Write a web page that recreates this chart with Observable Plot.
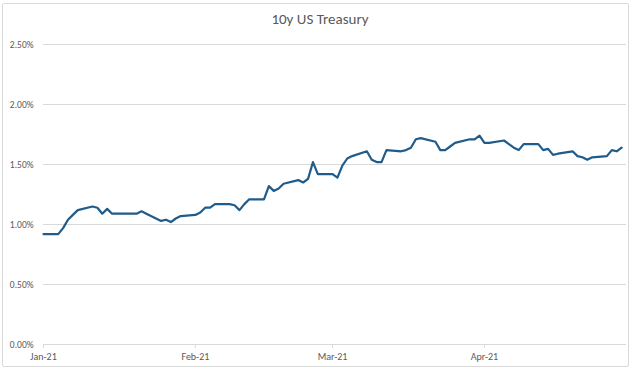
<!DOCTYPE html>
<html>
<head>
<meta charset="utf-8">
<script src="https://cdn.jsdelivr.net/npm/d3@7"></script>
<script src="https://cdn.jsdelivr.net/npm/@observablehq/plot@0.6"></script>
<style>
  html, body { margin: 0; padding: 0; background: #fff; }
  #wrap { position: relative; width: 640px; height: 377px; font-family: Carlito, Lato, sans-serif; }
  #frame { position: absolute; left: 2px; top: 3px; width: 627px; height: 364px; border: 1px solid #d9d9d9; border-radius: 2px; box-sizing: border-box; }
  #title { position: absolute; left: 0; top: 10px; width: 640px; text-align: center; font-size: 15px; color: #595959; }
  #chart { position: absolute; left: 0; top: 0; }
</style>
</head>
<body>
<div id="wrap">
  <div id="frame"></div>
  <div id="chart"></div>
  <div id="title">10y US Treasury</div>
</div>
<script>
const dates = [
  "2021-01-01","2021-01-04","2021-01-05","2021-01-06","2021-01-07","2021-01-08",
  "2021-01-11","2021-01-12","2021-01-13","2021-01-14","2021-01-15",
  "2021-01-18","2021-01-19","2021-01-20","2021-01-21","2021-01-22",
  "2021-01-25","2021-01-26","2021-01-27","2021-01-28","2021-01-29",
  "2021-02-01","2021-02-02","2021-02-03","2021-02-04","2021-02-05",
  "2021-02-08","2021-02-09","2021-02-10","2021-02-11","2021-02-12",
  "2021-02-15","2021-02-16","2021-02-17","2021-02-18","2021-02-19",
  "2021-02-22","2021-02-23","2021-02-24","2021-02-25","2021-02-26",
  "2021-03-01","2021-03-02","2021-03-03","2021-03-04","2021-03-05",
  "2021-03-08","2021-03-09","2021-03-10","2021-03-11","2021-03-12",
  "2021-03-15","2021-03-16","2021-03-17","2021-03-18","2021-03-19",
  "2021-03-22","2021-03-23","2021-03-24","2021-03-25","2021-03-26",
  "2021-03-29","2021-03-30","2021-03-31","2021-04-01","2021-04-02",
  "2021-04-05","2021-04-06","2021-04-07","2021-04-08","2021-04-09",
  "2021-04-12","2021-04-13","2021-04-14","2021-04-15","2021-04-16",
  "2021-04-19","2021-04-20","2021-04-21","2021-04-22","2021-04-23",
  "2021-04-26","2021-04-27","2021-04-28","2021-04-29"
];
const yields = [
  0.92, 0.92, 0.97, 1.04, 1.08, 1.12,
  1.15, 1.14, 1.09, 1.13, 1.09,
  1.09, 1.09, 1.09, 1.11, 1.09,
  1.03, 1.04, 1.02, 1.05, 1.07,
  1.08, 1.10, 1.14, 1.14, 1.17,
  1.17, 1.16, 1.12, 1.17, 1.21,
  1.21, 1.32, 1.28, 1.30, 1.34,
  1.37, 1.35, 1.38, 1.52, 1.42,
  1.42, 1.39, 1.49, 1.55, 1.57,
  1.61, 1.54, 1.52, 1.52, 1.62,
  1.61, 1.62, 1.64, 1.71, 1.72,
  1.69, 1.62, 1.62, 1.65, 1.68,
  1.71, 1.71, 1.74, 1.68, 1.68,
  1.70, 1.67, 1.64, 1.62, 1.67,
  1.67, 1.62, 1.63, 1.58, 1.59,
  1.61, 1.57, 1.56, 1.54, 1.56,
  1.57, 1.62, 1.61, 1.64
];
const yTicks = [0, 0.5, 1.0, 1.5, 2.0, 2.5];
const xTicks = ["2021-01-01", "2021-02-01", "2021-03-01", "2021-04-01"];
const xDomain = ["2021-01-01", "2021-04-30"];

const data = dates.map((d, i) => ({date: new Date(d), value: yields[i]}));

const chart = Plot.plot({
  width: 640,
  height: 377,
  marginTop: 44,
  marginBottom: 33,
  marginLeft: 43,
  marginRight: 14,
  style: {fontFamily: "Carlito, Lato, sans-serif", background: "transparent", overflow: "visible"},
  x: {type: "utc", domain: xDomain.map(d => new Date(d))},
  y: {domain: [0, 2.5]},
  marks: [
    Plot.gridY(yTicks, {stroke: "#d9d9d9", strokeOpacity: 1, strokeWidth: 1}),
    Plot.axisY(yTicks, {
      tickSize: 0, tickPadding: 10, label: null,
      tickFormat: d => d.toFixed(2) + "%",
      fontSize: 9.5, fill: "#595959"
    }),
    Plot.axisX(xTicks.map(d => new Date(d)), {
      tickSize: 4, tickPadding: 4, label: null, stroke: "#d9d9d9",
      tickFormat: d3.utcFormat("%b-%y"),
      fontSize: 10, fill: "#595959"
    }),
    Plot.line(data, {x: "date", y: "value", stroke: "#1f5c8b", strokeWidth: 2.2, strokeLinejoin: "round"})
  ]
});
document.getElementById("chart").appendChild(chart);
</script>
</body>
</html>
